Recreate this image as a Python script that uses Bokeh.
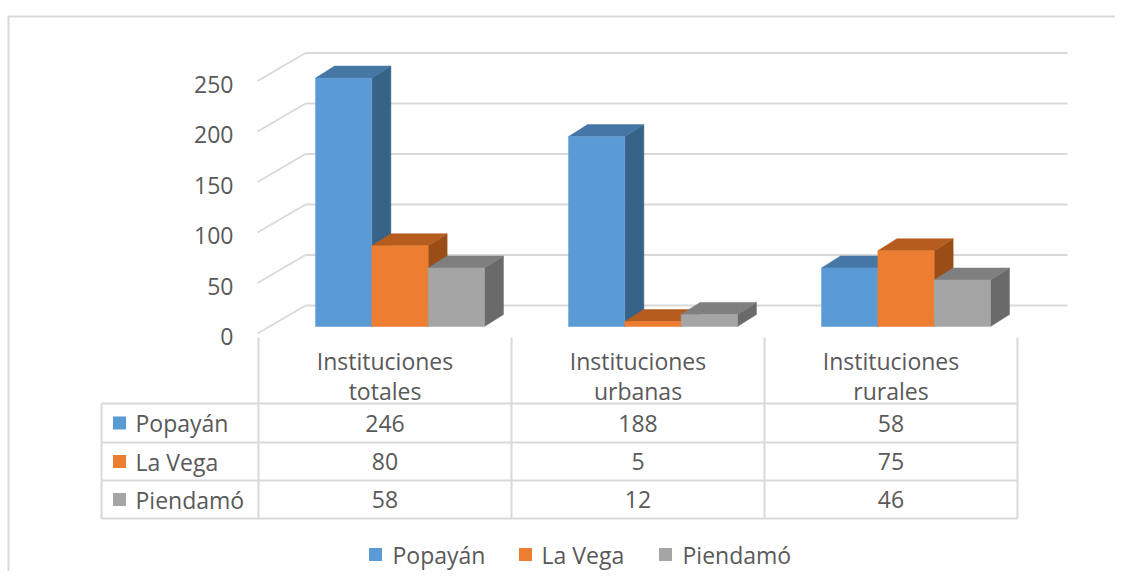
from bokeh.plotting import figure
from bokeh.models import Range1d
from bokeh.core.properties import value
from bokeh.embed import file_html
from bokeh.resources import INLINE

# ---------------- data ----------------
categories = ["Instituciones totales", "Instituciones urbanas", "Instituciones rurales"]
series_names = ["Popayán", "La Vega", "Piendamó"]
popayan = [246, 188, 58]
la_vega = [80, 5, 75]
piendamo = [58, 12, 46]
y_ticks = [0, 50, 100, 150, 200, 250]

series_values = [popayan, la_vega, piendamo]
front_colors = ["#5B9BD5", "#ED7D31", "#A5A5A5"]
top_colors = ["#4576A6", "#B65C1F", "#7F7F7F"]
side_colors = ["#386389", "#9B4D18", "#6A6A6A"]

TXT = "#595959"
GRID = "#D9D9D9"
FONT = value("Open Sans")
FS = "23px"

# ---------------- layout helpers (picture pixels -> plot units) ----------------
K = 1.01          # pixels per value unit
BASE = 326        # picture y of the value 0 at the bar front


def vy(page_y):
    return (BASE - page_y) / K


W, H = 1115, 571
p = figure(width=W, height=H, x_range=Range1d(0, W),
           y_range=Range1d(vy(H), vy(0)),
           x_axis_type=None, y_axis_type=None,
           toolbar_location=None, output_backend="svg",
           min_border=0, min_border_left=0, min_border_right=0,
           min_border_top=0, min_border_bottom=0)
p.outline_line_color = None
p.grid.visible = False
p.background_fill_color = "white"
p.border_fill_color = "white"

# chart-area frame
p.segment(x0=[7, 8], y0=[vy(16), vy(16)], x1=[W, 8], y1=[vy(16), vy(H)],
          line_color=GRID, line_width=2)

# ---------------- 3D walls / gridlines ----------------
back_off = vy(305)
front_off = vy(333)
p.segment(x0=[305] * len(y_ticks), y0=[t + back_off for t in y_ticks],
          x1=[1067] * len(y_ticks), y1=[t + back_off for t in y_ticks],
          line_color=GRID, line_width=2)
p.segment(x0=[257] * len(y_ticks), y0=[t + front_off for t in y_ticks],
          x1=[305] * len(y_ticks), y1=[t + back_off for t in y_ticks],
          line_color=GRID, line_width=2)
p.text(x=[233] * len(y_ticks), y=[t + vy(336) for t in y_ticks],
       text=[str(t) for t in y_ticks], text_align="right", text_baseline="middle",
       text_font=FONT, text_font_size=FS, text_color=TXT)

# ---------------- bars ----------------
COL_LEFT, COL_W = 258, 253
BAR_W, SHIFT = 56.3, 15
DX, DY = 19, 12 / K

for j, vals in enumerate(series_values):
    fx0, fx1, ftop = [], [], []
    sxs, sys_, txs, tys = [], [], [], []
    for i, v in enumerate(vals):
        cx = COL_LEFT + COL_W * (i + 0.5)
        x0 = cx + SHIFT - 1.5 * BAR_W + j * BAR_W
        x1 = x0 + BAR_W
        fx0.append(x0); fx1.append(x1); ftop.append(v)
        sxs.append([x1, x1 + DX, x1 + DX, x1])
        sys_.append([0, DY, v + DY, v])
        txs.append([x0, x0 + DX, x1 + DX, x1])
        tys.append([v, v + DY, v + DY, v])
    p.patches(xs=sxs, ys=sys_, fill_color=side_colors[j], line_color=side_colors[j], line_width=0.5)
    p.patches(xs=txs, ys=tys, fill_color=top_colors[j], line_color=top_colors[j], line_width=0.5)
    p.quad(left=fx0, right=fx1, bottom=[0] * len(vals), top=ftop,
           fill_color=front_colors[j], line_color=front_colors[j], line_width=0.5)

# ---------------- data table ----------------
row_lines = [403, 442, 480, 518]
col_lines = [COL_LEFT + COL_W * k for k in range(len(categories) + 1)]
p.segment(x0=[101] * len(row_lines), y0=[vy(r) for r in row_lines],
          x1=[col_lines[-1]] * len(row_lines), y1=[vy(r) for r in row_lines],
          line_color=GRID, line_width=2)
p.segment(x0=[101], y0=[vy(403)], x1=[101], y1=[vy(518)], line_color=GRID, line_width=2)
p.segment(x0=col_lines, y0=[vy(337)] * len(col_lines), x1=col_lines,
          y1=[vy(518)] * len(col_lines), line_color=GRID, line_width=2)

col_centers = [COL_LEFT + COL_W * (i + 0.5) for i in range(len(categories))]
line1 = [c.split(" ", 1)[0] for c in categories]
line2 = [c.split(" ", 1)[1] for c in categories]
p.text(x=col_centers, y=[vy(360)] * 3, text=line1, text_align="center",
       text_baseline="middle", text_font=FONT, text_font_size=FS, text_color=TXT)
p.text(x=col_centers, y=[vy(390)] * 3, text=line2, text_align="center",
       text_baseline="middle", text_font=FONT, text_font_size=FS, text_color=TXT)

row_centers = [(row_lines[k] + row_lines[k + 1]) / 2 for k in range(3)]
p.scatter(x=[119] * 3, y=[vy(r) for r in row_centers], marker="square", size=13,
          fill_color=front_colors, line_color=None)
p.text(x=[135] * 3, y=[vy(r) for r in row_centers], text=series_names,
       text_align="left", text_baseline="middle", text_font=FONT, text_font_size=FS,
       text_color=TXT)
for j, vals in enumerate(series_values):
    p.text(x=col_centers, y=[vy(row_centers[j])] * len(vals), text=[str(v) for v in vals],
           text_align="center", text_baseline="middle", text_font=FONT,
           text_font_size=FS, text_color=TXT)

# ---------------- legend ----------------
leg_mark_x = [375, 525, 665]
leg_text_x = [392, 541, 682]
LEG_Y = 554
p.scatter(x=leg_mark_x, y=[vy(LEG_Y)] * 3, marker="square", size=13,
          fill_color=front_colors, line_color=None)
p.text(x=leg_text_x, y=[vy(LEG_Y)] * 3, text=series_names, text_align="left",
       text_baseline="middle", text_font=FONT, text_font_size=FS, text_color=TXT)

open("out.html", "w").write(file_html(p, INLINE))
